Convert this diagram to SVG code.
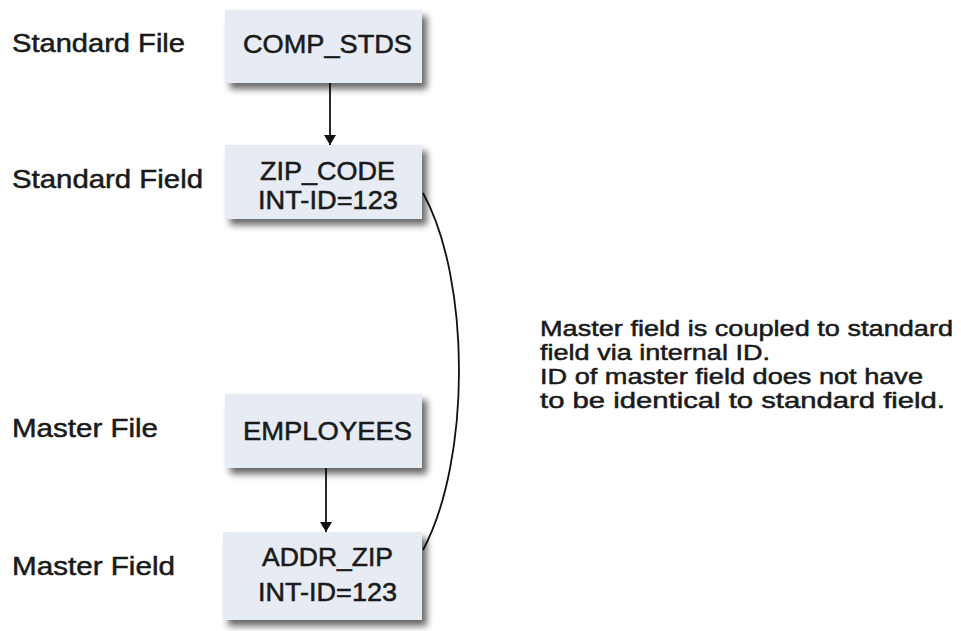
<svg xmlns="http://www.w3.org/2000/svg" width="961" height="631" viewBox="0 0 961 631">
<defs>
<filter id="sh" x="-10%" y="-10%" width="130%" height="150%">
<feGaussianBlur in="SourceAlpha" stdDeviation="3.5"/>
<feOffset dx="5" dy="6" result="b"/>
<feComponentTransfer><feFuncA type="linear" slope="0.6"/></feComponentTransfer>
<feMerge><feMergeNode/><feMergeNode in="SourceGraphic"/></feMerge>
</filter>
<marker id="ah" markerWidth="12" markerHeight="14" refX="10" refY="7" orient="auto" markerUnits="userSpaceOnUse">
<path d="M0,1 L10,7 L0,13 Z" fill="#111"/>
</marker>
<style>
.box{fill:#e6ebf4;filter:url(#sh)}
.t{font-family:"Liberation Sans",Arial,sans-serif;font-size:25px;fill:#1a1a1a;stroke:#1a1a1a;stroke-width:0.5}
.n{font-family:"Liberation Sans",Arial,sans-serif;font-size:22px;fill:#1a1a1a;stroke:#1a1a1a;stroke-width:0.5}
.ln{stroke:#111;stroke-width:1.8;fill:none}
</style>
</defs>
<rect width="961" height="631" fill="#fff"/>
<g id="labels">
<text class="t" x="12" y="52" textLength="173" lengthAdjust="spacingAndGlyphs">Standard File</text>
<text class="t" x="12" y="188" textLength="191" lengthAdjust="spacingAndGlyphs">Standard Field</text>
<text class="t" x="12" y="437" textLength="146" lengthAdjust="spacingAndGlyphs">Master File</text>
<text class="t" x="12" y="575" textLength="163" lengthAdjust="spacingAndGlyphs">Master Field</text>
</g>
<g id="connectors">
<line class="ln" x1="330" y1="82" x2="330" y2="145" marker-end="url(#ah)"/>
<line class="ln" x1="326" y1="468" x2="326" y2="532" marker-end="url(#ah)"/>
<path class="ln" d="M423,193 C471,280 471,460 423,550"/>
</g>
<g id="comp_stds">
<rect class="box" x="225" y="10" width="197" height="73"/>
<text class="t" x="243" y="53" textLength="169" lengthAdjust="spacingAndGlyphs">COMP_STDS</text>
</g>
<g id="zip_code">
<rect class="box" x="225" y="145" width="197" height="74"/>
<text class="t" x="260" y="180" textLength="135" lengthAdjust="spacingAndGlyphs">ZIP_CODE</text>
<text class="t" x="258" y="209" textLength="140" lengthAdjust="spacingAndGlyphs">INT-ID=123</text>
</g>
<g id="employees">
<rect class="box" x="225" y="394" width="197" height="74"/>
<text class="t" x="243" y="440" textLength="169" lengthAdjust="spacingAndGlyphs">EMPLOYEES</text>
</g>
<g id="addr_zip">
<rect class="box" x="223" y="532" width="199" height="88"/>
<text class="t" x="262" y="566" textLength="131" lengthAdjust="spacingAndGlyphs">ADDR_ZIP</text>
<text class="t" x="258" y="601" textLength="139" lengthAdjust="spacingAndGlyphs">INT-ID=123</text>
</g>
<g id="note">
<text class="n" x="540" y="336" textLength="413" lengthAdjust="spacingAndGlyphs">Master field is coupled to standard</text>
<text class="n" x="540" y="360" textLength="230" lengthAdjust="spacingAndGlyphs">field via internal ID.</text>
<text class="n" x="540" y="384" textLength="383" lengthAdjust="spacingAndGlyphs">ID of master field does not have</text>
<text class="n" x="540" y="408" textLength="405" lengthAdjust="spacingAndGlyphs">to be identical to standard field.</text>
</g>
</svg>
